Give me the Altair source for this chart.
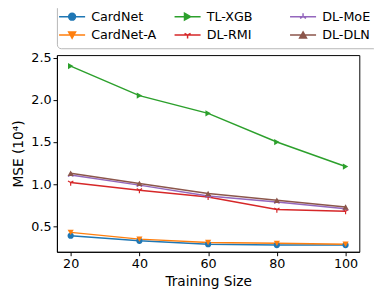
import altair as alt
import pandas as pd

sizes = [20, 40, 60, 80, 100]
methods = ["CardNet", "CardNet-A", "TL-XGB", "DL-RMI", "DL-MoE", "DL-DLN"]
cardnet = [0.39, 0.33, 0.29, 0.28, 0.28]
cardnet_a = [0.43, 0.35, 0.31, 0.30, 0.29]
tl_xgb = [2.40, 2.05, 1.84, 1.50, 1.21]
dl_rmi = [1.02, 0.93, 0.85, 0.70, 0.68]
dl_moe = [1.11, 0.99, 0.86, 0.79, 0.71]
dl_dln = [1.13, 1.01, 0.89, 0.81, 0.73]

series = [cardnet, cardnet_a, tl_xgb, dl_rmi, dl_moe, dl_dln]
rows = []
for m, vals in zip(methods, series):
    for s, v in zip(sizes, vals):
        rows.append({"method": m, "size": s, "mse": v})
df = pd.DataFrame(rows)

# legend order (row-wise fill to mimic column-wise matplotlib legend)
order = ["CardNet", "TL-XGB", "DL-MoE", "CardNet-A", "DL-RMI", "DL-DLN"]
colors = {"CardNet": "#1f77b4", "CardNet-A": "#ff7f0e", "TL-XGB": "#2ca02c",
          "DL-RMI": "#d62728", "DL-MoE": "#9467bd", "DL-DLN": "#8c564b"}
tri_down = "M0,0L0,1M0,0L-0.87,-0.5M0,0L0.87,-0.5"
tri_up = "M0,0L0,-1M0,0L-0.87,0.5M0,0L0.87,0.5"
marker = {"CardNet": "circle", "CardNet-A": "triangle-down", "TL-XGB": "triangle-right",
          "DL-RMI": tri_down, "DL-MoE": tri_up, "DL-DLN": "triangle-up"}
filled = {"CardNet": True, "CardNet-A": True, "TL-XGB": True,
          "DL-RMI": False, "DL-MoE": False, "DL-DLN": True}
# legend symbols: a short line with the marker on it
seg = "M-3.8,0L3.8,0"
leg_path = {
    "CardNet": seg + "M1,0A1,1,0,1,1,-1,0A1,1,0,1,1,1,0Z",
    "CardNet-A": seg + "M-1,-0.9L1,-0.9L0,0.9Z",
    "TL-XGB": seg + "M-0.9,-1L0.9,0L-0.9,1Z",
    "DL-RMI": seg + tri_down,
    "DL-MoE": seg + tri_up,
    "DL-DLN": seg + "M0,-0.9L1,0.9L-1,0.9Z",
}

# data-mark colour scale (natural order) and legend scales (legend order)
color_scale = alt.Scale(domain=methods, range=[colors[m] for m in methods])
leg_color = alt.Scale(domain=order, range=[colors[m] for m in order])
shape_scale = alt.Scale(domain=order, range=[leg_path[m] for m in order])

x = alt.X("size:Q", scale=alt.Scale(domain=[16, 104], nice=False, zero=False),
          axis=alt.Axis(values=sizes, title="Training Size", grid=False, format="d"))
y = alt.Y("mse:Q", scale=alt.Scale(domain=[0.2, 2.53], nice=False, zero=False),
          axis=alt.Axis(values=[0.5, 1.0, 1.5, 2.0, 2.5], format=".1f",
                        title="MSE (10⁴)", grid=False))

legend = alt.Legend(orient="none", legendX=0, legendY=-52, columns=3,
                    direction="horizontal", title=None,
                    strokeColor="#b5b5b5", cornerRadius=4, padding=6,
                    fillColor="white", labelFontSize=13,
                    labelFont="DejaVu Sans", symbolSize=49,
                    symbolOffset=3, labelOffset=13, gridAlign="all",
                    columnPadding=15, rowPadding=5,
                    symbolStrokeWidth=1.5, labelLimit=120)

lines = alt.Chart(df).mark_line(strokeWidth=1.5).encode(
    x=x, y=y,
    color=alt.Color("method:N", scale=color_scale, legend=None),
    order=alt.Order("size:Q"),
)

layers = [lines]
for m in methods:
    layers.append(
        alt.Chart(df).transform_filter(alt.datum.method == m)
        .mark_point(shape=marker[m], filled=filled[m], size=40, opacity=1,
                    strokeWidth=1.2)
        .encode(x=x, y=y,
                color=alt.Color("method:N", scale=color_scale, legend=None))
    )

legend_layer = alt.Chart(df).transform_filter("false").mark_point(
    filled=True, strokeWidth=1.5, opacity=1).encode(
    x=x, y=y,
    fill=alt.Fill("method:N", scale=leg_color, legend=legend),
    stroke=alt.Stroke("method:N", scale=leg_color, legend=legend),
    shape=alt.Shape("method:N", scale=shape_scale, legend=legend),
)
layers.append(legend_layer)

chart = alt.layer(*layers).properties(
    width=309, height=201,
    autosize=alt.AutoSizeParams(type="none"),
    padding={"left": 50, "top": 45, "right": 15, "bottom": 40},
).configure_view(stroke="black", strokeWidth=1).configure_axis(
    labelFont="DejaVu Sans", titleFont="DejaVu Sans", labelFontSize=13, titleFontSize=14,
    labelColor="black", titleColor="black", titleFontWeight="normal",
    domainColor="black", tickColor="black", tickSize=4,
).configure_axisY(titlePadding=5)

chart.save("out.html", embed_options={"renderer": "svg", "actions": False})
